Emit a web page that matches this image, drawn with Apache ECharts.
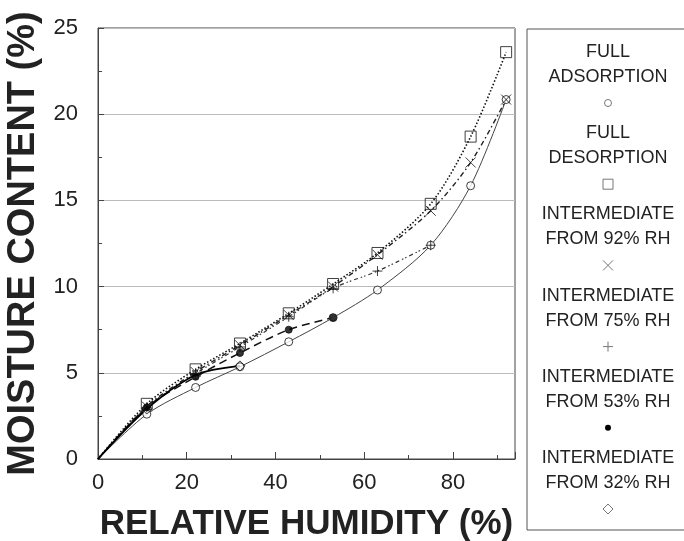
<!DOCTYPE html>
<html>
<head>
<meta charset="utf-8">
<script src="https://cdn.jsdelivr.net/npm/echarts@6/dist/echarts.min.js"></script>
<style>
  html, body { margin: 0; padding: 0; background: #fff; }
  #chart { width: 684px; height: 541px; }
</style>
</head>
<body>
<div id="chart"></div>
<script>
// Relative humidity steps (%) used for every isotherm
const rhLevels = [11, 22, 32, 43, 53, 63, 75, 84, 92];

// Moisture content (%) for each isotherm, ordered by rising RH
const fullAdsorption = [2.6, 4.15, 5.35, 6.8, 8.2, 9.8, 12.4, 15.85, 20.85];
const fullDesorption = [3.2, 5.2, 6.7, 8.45, 10.15, 11.95, 14.8, 18.7, 23.6];
const from92 = [3.05, 5.05, 6.6, 8.35, 10.0, 11.85, 14.4, 17.2, 20.85];
const from75 = [3.0, 4.95, 6.5, 8.25, 9.9, 10.9, 12.4];
const from53 = [3.0, 4.77, 6.15, 7.5, 8.2];
const from32 = [2.9, 4.87, 5.4];

const seriesNames = [
  'FULL ADSORPTION',
  'FULL DESORPTION',
  'INTERMEDIATE FROM 92% RH',
  'INTERMEDIATE FROM 75% RH',
  'INTERMEDIATE FROM 53% RH',
  'INTERMEDIATE FROM 32% RH'
];
const legendLines = [
  ['FULL', 'ADSORPTION'],
  ['FULL', 'DESORPTION'],
  ['INTERMEDIATE', 'FROM 92% RH'],
  ['INTERMEDIATE', 'FROM 75% RH'],
  ['INTERMEDIATE', 'FROM 53% RH'],
  ['INTERMEDIATE', 'FROM 32% RH']
];

const xTicks = { min: 0, max: 94, interval: 20 };
const yTicks = { min: 0, max: 25, interval: 5 };

const crossPath = 'path://M0,0L10,10M10,0L0,10';
const plusPath = 'path://M5,0L5,10M0,5L10,5';

const pairs = (vals) => vals.map((v, i) => [rhLevels[i], v]);
const withOrigin = (vals) => [[0, 0]].concat(pairs(vals));

const styles = [
  { data: fullAdsorption, line: { color: '#444', width: 1, type: 'solid' },
    symbol: 'circle', size: 8, fill: '#fff' },
  { data: fullDesorption, line: { color: '#111', width: 1.6, type: [1.5, 2] },
    symbol: 'rect', size: 11, fill: 'rgba(0,0,0,0)' },
  { data: from92, line: { color: '#222', width: 1.4, type: [5, 3, 1.5, 3] },
    symbol: crossPath, size: 10, fill: 'rgba(0,0,0,0)' },
  { data: from75, line: { color: '#333', width: 1.2, type: [4, 3, 1.5, 2, 1.5, 3] },
    symbol: plusPath, size: 10, fill: 'rgba(0,0,0,0)' },
  { data: from53, line: { color: '#111', width: 1.5, type: [8, 5] },
    symbol: 'circle', size: 7, fill: '#000' },
  { data: from32, line: { color: '#000', width: 1.8, type: 'solid' },
    symbol: 'diamond', size: 10, fill: 'rgba(0,0,0,0)' }
];

const series = [];
styles.forEach((s, i) => {
  // curve through the origin and the measured points
  series.push({
    name: seriesNames[i] + ' curve',
    type: 'line',
    data: withOrigin(s.data),
    smooth: 0.3,
    showSymbol: false,
    silent: true,
    lineStyle: s.line,
    z: 2
  });
  // measured points
  series.push({
    name: seriesNames[i],
    type: 'scatter',
    data: pairs(s.data),
    symbol: s.symbol,
    symbolSize: s.size,
    itemStyle: { color: s.fill, borderColor: '#111', borderWidth: 1 },
    z: 3
  });
});

// Legend box drawn as graphics: two text lines above each symbol
const legendX = 608;
const legendTop = 52;
const legendStep = 81.2;
const legendGraphics = [{
  type: 'rect',
  shape: { x: 527, y: 29, width: 200, height: 501 },
  style: { fill: 'none', stroke: '#555', lineWidth: 1 }
}];
const legendSymbol = (i, cy) => {
  const sx = legendX;
  const st = { fill: 'none', stroke: '#777', lineWidth: 1 };
  switch (i) {
    case 0: return { type: 'circle', shape: { cx: sx, cy: cy, r: 3.5 }, style: st };
    case 1: return { type: 'rect', shape: { x: sx - 5, y: cy - 5, width: 10, height: 10 }, style: st };
    case 2: return { type: 'group', children: [
      { type: 'line', shape: { x1: sx - 5, y1: cy - 5, x2: sx + 5, y2: cy + 5 }, style: st },
      { type: 'line', shape: { x1: sx + 5, y1: cy - 5, x2: sx - 5, y2: cy + 5 }, style: st }] };
    case 3: return { type: 'group', children: [
      { type: 'line', shape: { x1: sx, y1: cy - 5, x2: sx, y2: cy + 5 }, style: st },
      { type: 'line', shape: { x1: sx - 5, y1: cy, x2: sx + 5, y2: cy }, style: st }] };
    case 4: return { type: 'circle', shape: { cx: sx, cy: cy, r: 3 }, style: { fill: '#000' } };
    default: return { type: 'polygon', shape: { points: [[sx, cy - 5], [sx + 5, cy], [sx, cy + 5], [sx - 5, cy]] }, style: st };
  }
};
legendLines.forEach((lines, i) => {
  const y0 = legendTop + i * legendStep;
  lines.forEach((t, k) => {
    legendGraphics.push({
      type: 'text',
      x: legendX, y: y0 + k * 25,
      style: {
        text: t, fill: '#222',
        font: '18px "Liberation Sans", Arial, sans-serif',
        textAlign: 'center', textVerticalAlign: 'middle'
      }
    });
  });
  legendGraphics.push(legendSymbol(i, y0 + 51));
});

const chart = echarts.init(document.getElementById('chart'), null, { renderer: 'canvas' });
chart.setOption({
  animation: false,
  backgroundColor: '#fff',
  grid: {
    left: 98, top: 28, right: 169, bottom: 82,
    outerBoundsMode: 'none', containLabel: false,
    show: true, borderColor: '#444', borderWidth: 1, backgroundColor: 'transparent'
  },
  xAxis: {
    type: 'value',
    min: xTicks.min, max: xTicks.max, interval: xTicks.interval,
    name: 'RELATIVE HUMIDITY (%)',
    nameLocation: 'middle', nameGap: 48,
    nameTextStyle: { fontFamily: '"Liberation Sans", Arial, sans-serif', fontWeight: 'bold', fontSize: 35, color: '#222' },
    axisLine: { show: true, lineStyle: { color: '#444' } },
    axisTick: { show: true, inside: true, length: 7, lineStyle: { color: '#444' } },
    minorTick: { show: true, splitNumber: 2, length: 4, lineStyle: { color: '#444' } },
    splitLine: { show: false },
    axisLabel: { fontFamily: '"Liberation Sans", Arial, sans-serif', fontSize: 22, color: '#222', margin: 13, showMaxLabel: false }
  },
  yAxis: {
    type: 'value',
    min: yTicks.min, max: yTicks.max, interval: yTicks.interval,
    name: 'MOISTURE CONTENT (%)',
    nameLocation: 'middle', nameGap: 54,
    nameTextStyle: { fontFamily: '"Liberation Sans", Arial, sans-serif', fontWeight: 'bold', fontSize: 38, color: '#222' },
    axisLine: { show: true, lineStyle: { color: '#444' } },
    axisTick: { show: true, inside: true, length: 6, lineStyle: { color: '#444' } },
    minorTick: { show: true, splitNumber: 2, length: 4, lineStyle: { color: '#444' } },
    splitLine: { show: true, lineStyle: { color: '#bbb', width: 1 } },
    axisLabel: { fontFamily: '"Liberation Sans", Arial, sans-serif', fontSize: 22, color: '#222', margin: 20 }
  },
  series: series,
  graphic: legendGraphics
});
</script>
</body>
</html>
